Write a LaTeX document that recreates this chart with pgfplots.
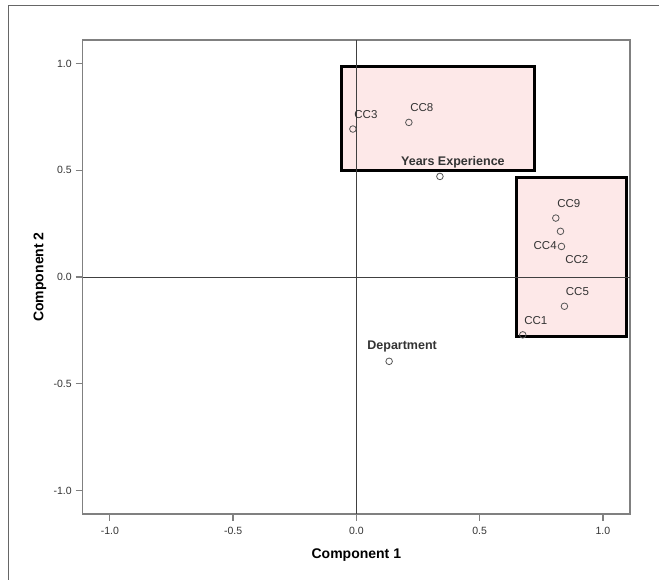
\documentclass[border=0pt]{standalone}
\usepackage{fontspec}
\setmainfont{Liberation Sans}
\usepackage{pgfplots}
\pgfplotsset{compat=1.18}
\definecolor{boxpink}{HTML}{FDE8E8}
\definecolor{lblgray}{HTML}{333333}
\definecolor{axgray}{HTML}{808080}
\definecolor{markgray}{HTML}{555555}
\begin{document}
\begin{tikzpicture}[x=1pt,y=1pt]
\useasboundingbox (-82.7,-66) rectangle (576.3,514);
\draw[color=axgray!80!black, line width=0.9pt] (-74.7,-70) -- (-74.7,509) -- (580,509);
\begin{axis}[
  at={(0,0)}, anchor=south west,
  scale only axis, width=547.3pt, height=474pt,
  xmin=-1.11, xmax=1.11, ymin=-1.11, ymax=1.11,
  axis line style={axgray, line width=1.3pt},
  tick pos=left, tick align=outside,
  major tick length=7pt,
  every tick/.style={axgray, line width=1.3pt},
  xtick={-1,-0.5,0,0.5,1}, ytick={-1,-0.5,0,0.5,1},
  xticklabels={-1.0,-0.5,0.0,0.5,1.0},
  yticklabels={-1.0,-0.5,0.0,0.5,1.0},
  tick label style={font=\fontsize{10.5}{12}\selectfont, text=lblgray},
  x tick label style={yshift=-2.5pt},
  y tick label style={xshift=-0.5pt},
  xlabel={Component 1}, ylabel={Component 2},
  label style={font=\fontsize{14}{16}\selectfont\bfseries, text=black},
  x label style={at={(axis description cs:0.5,-0.0865)}, anchor=center},
  y label style={at={(axis description cs:-0.078,0.5)}, anchor=center},
  clip=false,
  every node near coord/.style={anchor=center, xshift=13pt, yshift=14.5pt, text=lblgray, font=\fontsize{11.5}{13}\selectfont},
]
\addplot[fill=boxpink, draw=black, line width=3pt, sharp plot, no marks] coordinates {(-0.061,0.497)(0.721,0.497)(0.721,0.986)(-0.061,0.986)} -- cycle;
\addplot[fill=boxpink, draw=black, line width=3pt, sharp plot, no marks] coordinates {(0.650,-0.279)(1.097,-0.279)(1.097,0.468)(0.650,0.468)} -- cycle;
\addplot[color=black!75, line width=0.9pt, no marks] coordinates {(-1.11,0)(1.11,0)};
\addplot[color=black!75, line width=0.9pt, no marks] coordinates {(0,-1.11)(0,1.11)};
\pgfplotsset{pts/.style={only marks, mark=o, mark size=3.3pt, color=markgray, mark options={line width=0.8pt}, nodes near coords, point meta=explicit symbolic}}
\addplot[pts] coordinates {(-0.014,0.693) [CC3]};
\addplot[pts] coordinates {(0.213,0.724) [CC8]};
\addplot[pts] coordinates {(0.809,0.276) [CC9]};
\addplot[pts] coordinates {(0.844,-0.137) [CC5]};
\addplot[pts] coordinates {(0.675,-0.271) [CC1]};
\addplot[pts, every node near coord/.append style={xshift=3.4pt, yshift=-43.2pt}] coordinates {(0.828,0.214) [CC2]};
\addplot[pts, every node near coord/.append style={xshift=-29.3pt, yshift=-13.5pt}] coordinates {(0.832,0.143) [CC4]};
\addplot[pts, every node near coord/.append style={font=\fontsize{12.5}{14}\selectfont\bfseries}] coordinates {(0.339,0.471) [Years Experience]};
\addplot[pts, every node near coord/.append style={font=\fontsize{12.5}{14}\selectfont\bfseries}] coordinates {(0.133,-0.395) [Department]};
\end{axis}
\end{tikzpicture}
\end{document}
